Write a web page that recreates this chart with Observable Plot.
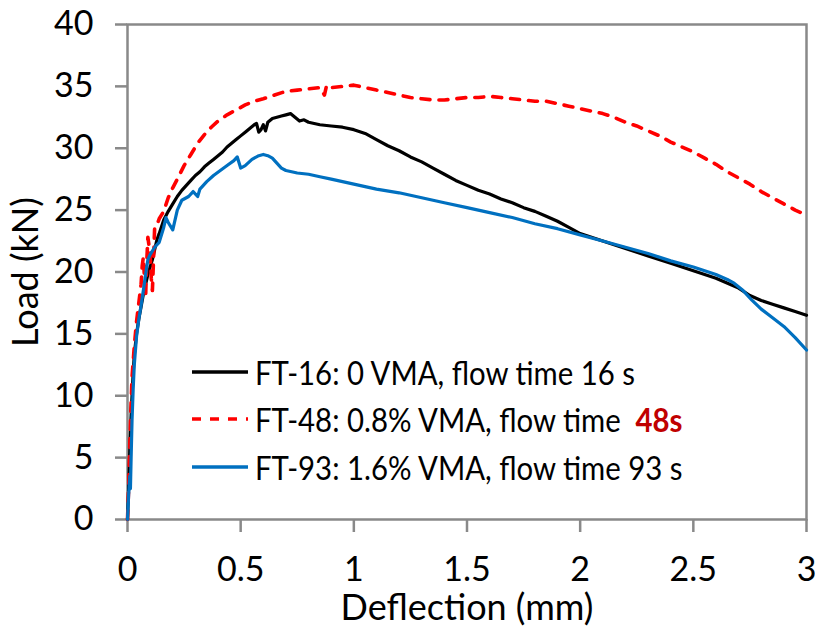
<!DOCTYPE html>
<html>
<head>
<meta charset="utf-8">
<script src="https://cdn.jsdelivr.net/npm/d3@7"></script>
<script src="https://cdn.jsdelivr.net/npm/@observablehq/plot@0.6"></script>
<style>
  html, body { margin: 0; padding: 0; background: #fff; }
  #wrap { position: relative; width: 815px; height: 630px; font-family: Lato, "Open Sans", sans-serif; }
  #legend { position: absolute; left: 192px; top: 348px; }
  .row { display: flex; align-items: center; height: 47.5px; font-size: 33px; color: #000; white-space: pre; }
  .row svg { margin-right: 7px; flex: none; }
  .txt { display: inline-block; transform: scaleX(0.89); transform-origin: 0 50%; }
  .hl { color: #C00000; font-weight: bold; }
</style>
</head>
<body>
<div id="wrap"></div>
<script>
// ---- data ----
const xTicks = [0, 0.5, 1, 1.5, 2, 2.5, 3];
const xTickLabels = ["0", "0.5", "1", "1.5", "2", "2.5", "3"];
const yTicks = [0, 5, 10, 15, 20, 25, 30, 35, 40];
const yTickLabels = ["0", "5", "10", "15", "20", "25", "30", "35", "40"];

const seriesNames = ["FT-16: 0 VMA, flow time 16 s", "FT-48: 0.8% VMA, flow time ", "FT-93: 1.6% VMA, flow time 93 s"];
const seriesSuffix = ["", "48s", ""];
const seriesColors = ["#000000", "#FF0000", "#0070C0"];

const ft16X = [0,0.005,0.01,0.015,0.02,0.025,0.03,0.04,0.05,0.06,0.07,0.08,0.09,0.1,0.11,0.12,0.13,0.14,0.16,0.18,0.2,0.22,0.24,0.26,0.28,0.3,0.32,0.34,0.36,0.38,0.4,0.42,0.44,0.46,0.48,0.5,0.52,0.54,0.56,0.57,0.58,0.59,0.6,0.61,0.62,0.64,0.66,0.68,0.7,0.72,0.74,0.76,0.78,0.8,0.85,0.9,0.95,1.0,1.05,1.1,1.15,1.2,1.25,1.3,1.35,1.4,1.45,1.5,1.55,1.6,1.65,1.7,1.75,1.8,1.85,1.9,1.95,2.0,2.1,2.2,2.3,2.4,2.5,2.6,2.7,2.75,2.8,2.85,2.9,2.95,3.0];
const ft16Y = [0,2.5,5.5,8,10,11.8,13.3,15,16.2,17.2,18.2,19,19.8,20.4,21,21.8,22.6,23.1,24.2,24.9,25.5,26.1,26.6,27,27.4,27.8,28.1,28.5,28.8,29.1,29.4,29.7,30.1,30.4,30.7,31.0,31.3,31.6,31.9,32.0,31.3,31.5,31.9,31.4,32.1,32.4,32.5,32.6,32.7,32.8,32.5,32.2,32.3,32.1,31.9,31.8,31.7,31.5,31.2,30.7,30.2,29.8,29.3,28.9,28.4,27.9,27.4,27.0,26.6,26.3,25.9,25.6,25.2,24.9,24.5,24.1,23.6,23.1,22.5,21.9,21.3,20.7,20.1,19.5,18.7,18.1,17.7,17.4,17.1,16.8,16.5];

const ft48X = [0,0.005,0.01,0.015,0.02,0.03,0.04,0.05,0.06,0.065,0.07,0.075,0.08,0.085,0.09,0.1,0.105,0.11,0.115,0.12,0.13,0.14,0.16,0.18,0.2,0.22,0.25,0.28,0.31,0.34,0.37,0.4,0.44,0.48,0.52,0.56,0.6,0.65,0.7,0.75,0.8,0.85,0.87,0.88,0.9,0.95,1.0,1.05,1.1,1.15,1.2,1.25,1.3,1.35,1.4,1.45,1.5,1.55,1.6,1.65,1.7,1.75,1.8,1.85,1.9,1.95,2.0,2.05,2.1,2.15,2.2,2.25,2.3,2.35,2.4,2.45,2.5,2.55,2.6,2.65,2.7,2.75,2.8,2.85,2.9,2.95,3.0];
const ft48Y = [0,2.5,6,9,11.5,14,16,17.5,19,20.5,21.2,19.5,18,20.8,22.8,21.5,19.5,18.5,21,23.6,23.8,24.3,24.9,26.0,26.8,27.5,28.6,29.5,30.4,31.1,31.7,32.2,32.7,33.1,33.5,33.8,34.0,34.3,34.6,34.7,34.8,34.9,34.3,35.1,34.9,35.0,35.1,34.9,34.7,34.5,34.3,34.1,34.0,33.9,33.9,34.0,34.1,34.1,34.2,34.1,34.0,33.9,33.8,33.8,33.6,33.4,33.2,33.0,32.8,32.5,32.1,31.8,31.4,31.0,30.5,30.1,29.7,29.2,28.7,28.1,27.6,27.1,26.5,26.0,25.5,25.0,24.6];

const ft93X = [0,0.005,0.01,0.013,0.016,0.02,0.025,0.03,0.04,0.05,0.06,0.07,0.08,0.09,0.1,0.12,0.14,0.16,0.17,0.18,0.2,0.22,0.24,0.27,0.29,0.31,0.32,0.35,0.38,0.41,0.44,0.47,0.485,0.5,0.52,0.55,0.58,0.6,0.62,0.64,0.66,0.68,0.7,0.75,0.8,0.85,0.9,0.95,1.0,1.05,1.1,1.2,1.3,1.4,1.5,1.6,1.7,1.8,1.9,2.0,2.1,2.2,2.3,2.4,2.5,2.6,2.65,2.68,2.72,2.76,2.8,2.85,2.9,2.95,3.0];
const ft93Y = [0,2,3.5,2.5,5,8,10.5,12.5,14.8,16.2,17.3,18.5,19.8,21.0,21.4,22,22.4,23.6,24.4,24.0,23.4,25.0,25.8,26.1,26.5,26.1,26.7,27.3,27.8,28.2,28.6,29.0,29.3,28.4,28.6,29.1,29.4,29.5,29.4,29.2,28.8,28.4,28.2,28.0,27.9,27.7,27.5,27.3,27.1,26.9,26.7,26.4,26.0,25.6,25.2,24.8,24.4,23.9,23.5,23.0,22.5,22.0,21.5,20.9,20.4,19.8,19.4,19.1,18.5,17.7,17.0,16.3,15.6,14.7,13.7];

const toRows = (xs, ys) => xs.map((x, i) => ({x, y: ys[i]}));
const ft16 = toRows(ft16X, ft16Y);
const ft48 = toRows(ft48X, ft48Y);
const ft93 = toRows(ft93X, ft93Y);

const axisGray = "#898989";
const font = "Lato, 'Open Sans', sans-serif";

const chart = Plot.plot({
  width: 815,
  height: 630,
  marginTop: 24,
  marginBottom: 111,
  marginLeft: 127,
  marginRight: 9,
  style: { fontFamily: font, fontSize: "33px", color: "#000", background: "#fff", overflow: "visible" },
  x: { domain: [0, 3] },
  y: { domain: [0, 40] },
  marks: [
    Plot.frame({ stroke: axisGray, strokeWidth: 2.5 }),
    Plot.axisX({ ticks: xTicks, tickFormat: (d) => xTickLabels[xTicks.indexOf(d)], tickSize: 13, tickPadding: 24, stroke: axisGray, strokeWidth: 2.5, fill: "#000", fontSize: 34, label: null }),
    Plot.axisY({ ticks: yTicks, tickFormat: (d) => yTickLabels[yTicks.indexOf(d)], tickSize: 12, tickPadding: 22, stroke: axisGray, strokeWidth: 2.5, fill: "#000", fontSize: 34, label: null }),
    Plot.text(["Deflection (mm)"], { frameAnchor: "bottom", dy: 89, fontSize: 36, fill: "#000", textAnchor: "middle", lineAnchor: "middle" }),
    Plot.text(["Load (kN)"], { frameAnchor: "left", dx: -101, rotate: -90, fontSize: 36, fill: "#000", textAnchor: "middle", lineAnchor: "middle" }),
    Plot.line(ft16, { x: "x", y: "y", stroke: seriesColors[0], strokeWidth: 3.2 }),
    Plot.line(ft48, { x: "x", y: "y", stroke: seriesColors[1], strokeWidth: 3.6, strokeDasharray: "9,9" }),
    Plot.line(ft93, { x: "x", y: "y", stroke: seriesColors[2], strokeWidth: 3.2 })
  ]
});

const wrap = document.getElementById("wrap");
wrap.appendChild(chart);

// legend (HTML overlay inside plot area)
const legend = document.createElement("div");
legend.id = "legend";
seriesNames.forEach((name, i) => {
  const row = document.createElement("div");
  row.className = "row";
  const dash = i === 1 ? ' stroke-dasharray="9,9"' : "";
  row.innerHTML = `<svg width="56" height="10"><line x1="0" y1="5" x2="56" y2="5" stroke="${seriesColors[i]}" stroke-width="3.5"${dash}/></svg>` +
    `<span class="txt">${name}${seriesSuffix[i] ? `<span class="hl"> ${seriesSuffix[i]}</span>` : ""}</span>`;
  legend.appendChild(row);
});
wrap.appendChild(legend);
</script>
</body>
</html>
